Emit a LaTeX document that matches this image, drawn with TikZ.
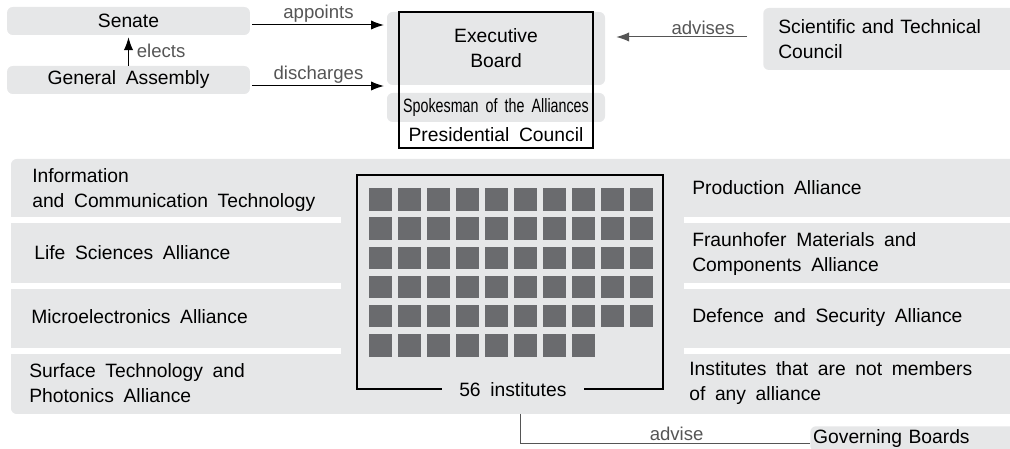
\documentclass[tikz,border=0pt]{standalone}
\usepackage{fontspec}
\setmainfont{Liberation Sans}[WordSpace=1.8]
\usepackage{graphicx}
\usepackage{tikz}
\usepackage{xcolor}
\usetikzlibrary{arrows.meta}

\definecolor{panel}{RGB}{230,231,232}
\definecolor{unit}{RGB}{106,107,110}
\definecolor{labelgray}{RGB}{85,85,85}

\begin{document}
\begin{tikzpicture}[x=0.7pt, y=-0.7pt,
    font=\fontsize{13.5}{17.5}\selectfont,
    box/.style={fill=panel, rounded corners=4pt, inner sep=0pt},
    txt/.style={align=left, anchor=west, inner sep=0pt},
    arr/.style={-{Latex[length=9pt,width=6.5pt]}, line width=0.7pt},
    lbl/.style={text=labelgray, font=\fontsize{13}{15}\selectfont, inner sep=1.5pt}]
    \useasboundingbox (0,0) rectangle (1010,449);

    % Top boxes
    \node[box, minimum width=170pt, minimum height=19.6pt] (senate) at (128.5,21) {Senate};
    \node[box, minimum width=170pt, minimum height=19.6pt] (assembly) at (128.5,80) {General Assembly};
    \node[box, minimum width=152.6pt, minimum height=51.1pt, align=center] (exec) at (496,48.5) {Executive\\Board};
    \node[box, minimum width=152.6pt, minimum height=20.3pt] (spokes) at (496,107.5) {\scalebox{0.74}[1]{Spokesman of the Alliances}};
    \node[draw, line width=1.1pt, minimum width=135.8pt, minimum height=95.2pt, inner sep=0pt] (council) at (496,80) {};
    \node[inner sep=0pt] (presid) at (496,135) {Presidential Council};
    \node[box, anchor=west, minimum width=182pt, minimum height=43.4pt, text width=161pt, align=left, inner xsep=10.5pt] (sci) at (763,39) {Scientific and Technical\\Council};

    % Arrows
    \coordinate (appS) at ([yshift=-2.8pt]senate.east);
    \coordinate (disS) at ([yshift=-4.2pt]assembly.east);
    \coordinate (advS) at ([yshift=1.4pt]sci.west);
    \draw[arr, shorten <=1.4pt, shorten >=2pt] (appS) -- node[lbl, above] {appoints} (appS -| exec.west);
    \draw[arr, shorten <=1.4pt, shorten >=2pt] (disS) -- node[lbl, above] {discharges} (disS -| exec.west);
    \draw[arr, shorten >=1.4pt] (assembly.north) -- node[lbl, right=4pt] {elects} (senate.south);
    \draw[arr, draw=labelgray, shorten <=11.2pt, shorten >=7.7pt] (advS) -- node[lbl, above, pos=0.38] {advises} (advS -| exec.east);

    % Alliances
    \fill[panel, rounded corners=4pt] (11,159) rectangle (1030,414);
    \foreach \y in {217,283,348} {
        \fill[white] (11,\y) rectangle (341,\y+6);
        \fill[white] (684,\y) rectangle (1030,\y+6);
    }
    \node[txt] (ict) at (32,190.5) {Information\\and Communication Technology};
    \node[txt] (life) at (34,253) {Life Sciences Alliance};
    \node[txt] (micro) at (31,317) {Microelectronics Alliance};
    \node[txt] (surface) at (29,383) {Surface Technology and\\Photonics Alliance};
    \node[txt] (prod) at (692,188) {Production Alliance};
    \node[txt] (materials) at (692,254.5) {Fraunhofer Materials and\\Components Alliance};
    \node[txt] (defence) at (692,318) {Defence and Security Alliance};
    \node[txt] (other) at (689,383) {Institutes that are not members\\of any alliance};

    % Institutes
    \foreach \r in {0,...,4}
        \foreach \c in {0,...,9}
            \fill[unit] (369.3+29*\c,188.3+29.2*\r) rectangle +(22.4,22.4);
    \foreach \c in {0,...,7}
        \fill[unit] (369.3+29*\c,334.3) rectangle +(22.4,22.4);
    \node[draw, line width=1.1pt, minimum width=214.2pt, minimum height=149.8pt, inner sep=0pt] (inst) at (510,282) {};
    \node[fill=panel, inner xsep=12pt, inner ysep=2pt] (count) at ([xshift=2pt]inst.south) {56 institutes};

    % Governing boards
    \node[box, anchor=north west, minimum width=154pt, minimum height=17.5pt, text width=150pt, align=left, inner xsep=2pt, inner ysep=1.5pt, text depth=2.5pt, text height=9.5pt] (boards) at (810,426) {Governing Boards};
    \coordinate (advtop) at (520,414);
    \draw[labelgray, line width=0.7pt] (advtop) |- node[lbl, above, pos=0.77] {advise} ([yshift=-3pt]boards.west);
\end{tikzpicture}
\end{document}
